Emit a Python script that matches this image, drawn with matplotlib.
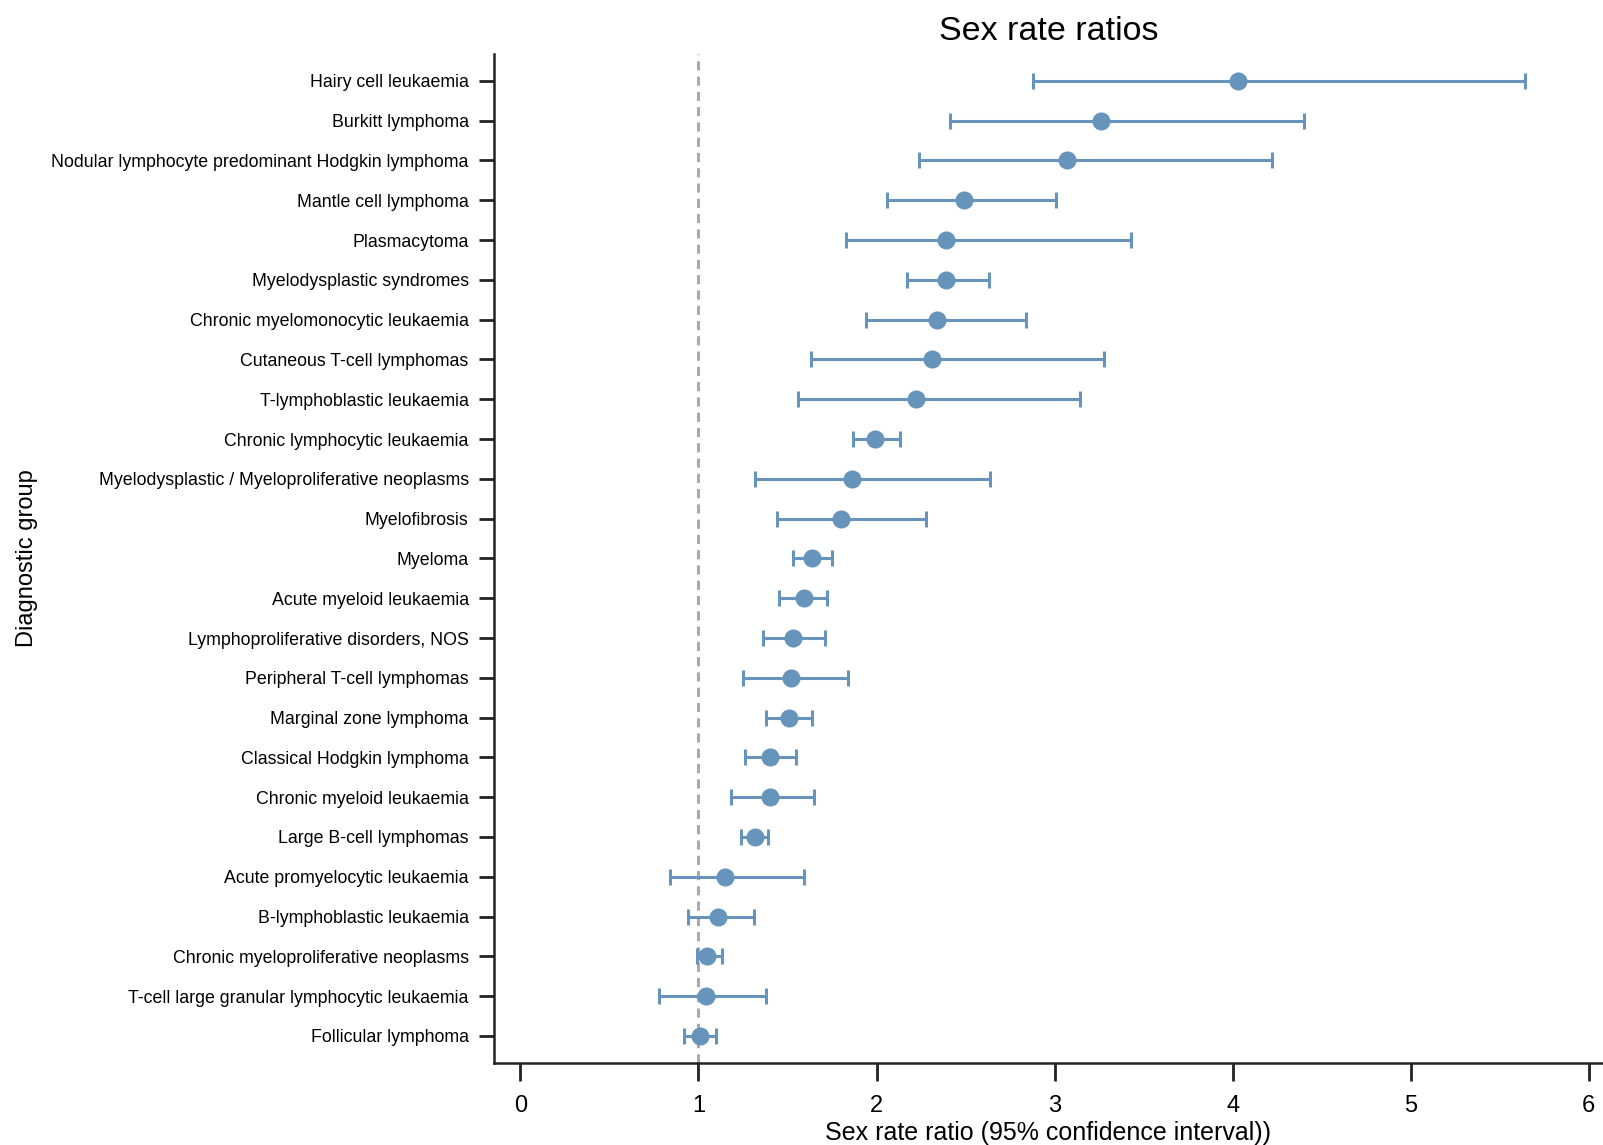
import matplotlib
matplotlib.use("Agg")
import matplotlib.pyplot as plt

# Data (top to bottom as shown)
groups = [
    "Hairy cell leukaemia",
    "Burkitt lymphoma",
    "Nodular lymphocyte predominant Hodgkin lymphoma",
    "Mantle cell lymphoma",
    "Plasmacytoma",
    "Myelodysplastic syndromes",
    "Chronic myelomonocytic leukaemia",
    "Cutaneous T-cell lymphomas",
    "T-lymphoblastic leukaemia",
    "Chronic lymphocytic leukaemia",
    "Myelodysplastic / Myeloproliferative neoplasms",
    "Myelofibrosis",
    "Myeloma",
    "Acute myeloid leukaemia",
    "Lymphoproliferative disorders, NOS",
    "Peripheral T-cell lymphomas",
    "Marginal zone lymphoma",
    "Classical Hodgkin lymphoma",
    "Chronic myeloid leukaemia",
    "Large B-cell lymphomas",
    "Acute promyelocytic leukaemia",
    "B-lymphoblastic leukaemia",
    "Chronic myeloproliferative neoplasms",
    "T-cell large granular lymphocytic leukaemia",
    "Follicular lymphoma",
]
ratio = [4.03, 3.26, 3.07, 2.49, 2.39, 2.39, 2.34, 2.31, 2.22, 1.99, 1.86, 1.80, 1.64,
         1.59, 1.53, 1.52, 1.51, 1.40, 1.40, 1.32, 1.15, 1.11, 1.05, 1.04, 1.01]
lower = [2.88, 2.41, 2.24, 2.06, 1.83, 2.17, 1.94, 1.63, 1.56, 1.87, 1.32, 1.44, 1.53,
         1.45, 1.36, 1.25, 1.38, 1.26, 1.18, 1.24, 0.84, 0.94, 0.99, 0.78, 0.92]
upper = [5.64, 4.40, 4.22, 3.01, 3.43, 2.63, 2.84, 3.28, 3.14, 2.13, 2.64, 2.28, 1.75,
         1.72, 1.71, 1.84, 1.64, 1.55, 1.65, 1.39, 1.59, 1.31, 1.13, 1.38, 1.10]
x_ticks = [0, 1, 2, 3, 4, 5, 6]

plt.rcParams["font.family"] = ["Liberation Sans", "DejaVu Sans"]

fig = plt.figure(figsize=(16.03, 11.45), dpi=100)
ax = fig.add_axes([0.308, 0.0716, 0.692, 0.8814])

ypos = list(range(len(groups)))
err_lo = [r - l for r, l in zip(ratio, lower)]
err_hi = [u - r for r, u in zip(ratio, upper)]

# Reference line at ratio 1
ax.axvline(1, color="#aaaaaa", linestyle=(0, (3, 2)), linewidth=2.2, zorder=1)

ax.errorbar(ratio, ypos, xerr=[err_lo, err_hi], fmt="o", color="#6794bb",
            ecolor="#6794bb", markersize=12, elinewidth=2.2, capsize=6,
            capthick=2.2, zorder=3)

ax.set_ylim(len(groups) - 1 + 0.68, -0.68)
ax.set_xlim(-0.15, 6.08)
ax.set_yticks(ypos)
ax.set_yticklabels(groups, fontsize=12.8)
ax.set_xticks(x_ticks)
ax.tick_params(axis="x", labelsize=17, length=13, width=2, pad=10, color="#222222")
ax.tick_params(axis="y", length=11, width=2, pad=7, color="#222222")

for side in ["top", "right"]:
    ax.spines[side].set_visible(False)
for side in ["left", "bottom"]:
    ax.spines[side].set_linewidth(1.8)
    ax.spines[side].set_color("#222222")

ax.set_title("Sex rate ratios", fontsize=24.5, pad=10)
ax.set_xlabel("Sex rate ratio (95% confidence interval))", fontsize=18, labelpad=3)
ax.set_ylabel("Diagnostic group", fontsize=17)
ax.yaxis.set_label_coords(-0.411, 0.5)

fig.savefig("out.png", dpi=100)
